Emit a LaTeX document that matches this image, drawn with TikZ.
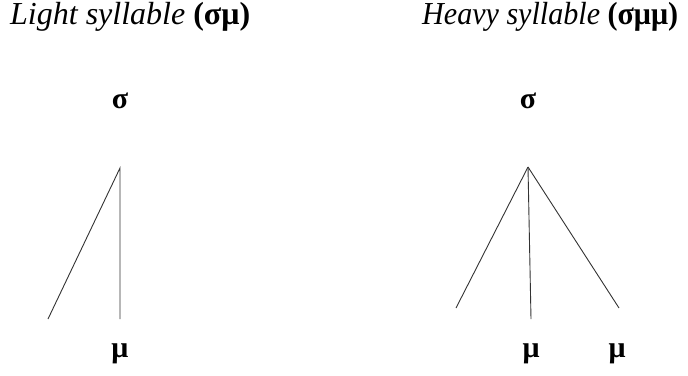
\documentclass[tikz,border=0pt]{standalone}
\usepackage{fontspec}
\setmainfont{Liberation Serif}
\begin{document}
\begin{tikzpicture}[x=1pt,y=-1pt,
  title/.style={anchor=west,inner sep=0pt,font=\fontsize{32}{36}\selectfont},
  sym/.style={inner sep=0pt,font=\bfseries\fontsize{30}{34}\selectfont},
  branch/.style={draw=black!80,line width=0.9pt}]
\useasboundingbox (0,0) rectangle (688,375);
\node[title] (t1) at (10,17) {\textit{Light syllable} \textbf{(σμ)}};
\node[title,xscale=0.94] (t2) at (422,17) {\textit{Heavy syllable} \textbf{(σμμ)}};
% left tree
\node[sym] (s1) at (120,101) {σ};
\coordinate (a1) at (120,168);
\coordinate (l1) at (48,319);
\coordinate (m1e) at (120,319);
\node[sym] (m1) at (120,354) {μ};
\draw[branch] (l1) -- (a1) -- (m1e);
% right tree
\node[sym] (s2) at (528,101) {σ};
\coordinate (a2) at (528,167);
\coordinate (l2) at (456,308);
\coordinate (m2e) at (531,319);
\coordinate (r2) at (619,308);
\node[sym] (m2) at (531,354) {μ};
\node[sym] (m3) at (617,354) {μ};
\draw[branch] (a2) -- (l2);
\draw[branch] (a2) -- (m2e);
\draw[branch] (a2) -- (r2);
\end{tikzpicture}
\end{document}
